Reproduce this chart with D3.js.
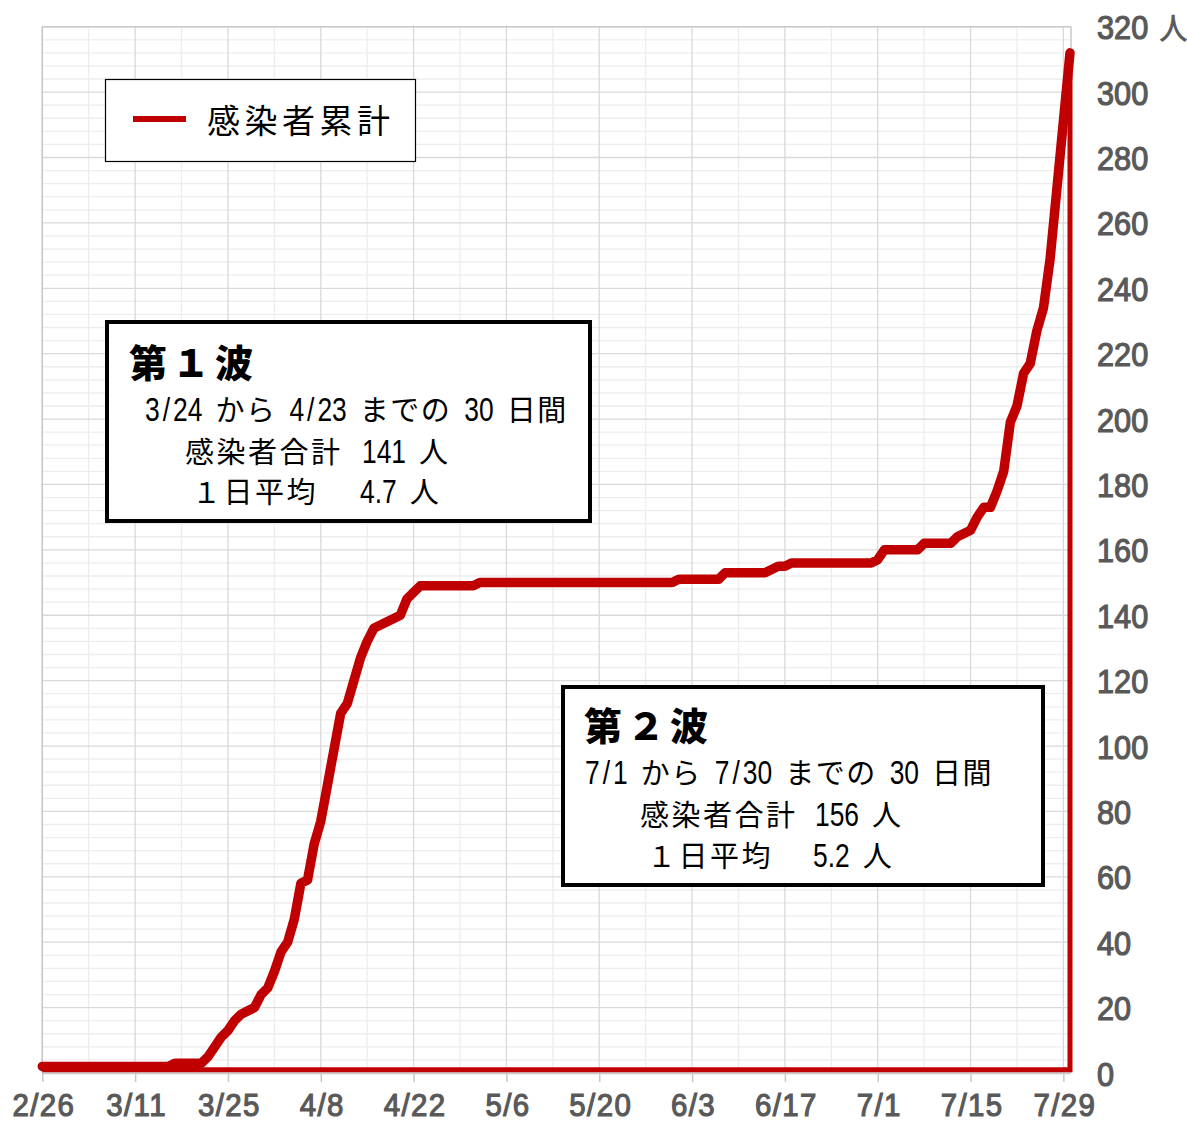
<!DOCTYPE html>
<html><head><meta charset="utf-8">
<script src="https://cdn.jsdelivr.net/npm/d3@7"></script>
<style>
html,body{margin:0;padding:0;background:#fff;}
svg{display:block;}
text{white-space:pre;}
</style></head>
<body>
<svg id="chart" width="1187" height="1124"></svg>
<script>
// ---- data ----
const startDay = "2/26";
const endDay = "7/30";
// daily cumulative infections, 2/26 .. 7/30 (2020)
const cumulative = [
  2,2,2,2,2,2,2,2,2,2, 2,2,2,2,2,2,2,2,2,2,          // 2/26 - 3/16
  3,3,3,3,3,                                          // 3/17 - 3/21
  5,8,11,13,16,18,19,20,24,26,                        // 3/22 - 3/31
  31,37,40,47,58,59,70,77,88,99,                      // 4/1 - 4/10
  110,113,120,127,132,136,137,138,139,140,            // 4/11 - 4/20
  145,147,149,                                        // 4/21 - 4/23
  149,149,149,149,149,149,149,149,                    // 4/24 - 5/1
  150,150,150,150,150,150,150,150,150,150,            // 5/2 - 5/11
  150,150,150,150,150,150,150,150,150,150,
  150,150,150,150,150,150,150,150,150,150,            // .. 5/31
  151,151,151,151,151,151,151,                        // 6/1 - 6/7
  153,153,153,153,153,153,153,                        // 6/8 - 6/14
  154,155,155,                                        // 6/15 - 6/17
  156,156,156,156,156,156,156,156,156,156,156,156,156,// 6/18 - 6/30
  157,160,160,160,160,160,160,                        // 7/1 - 7/7
  162,162,162,162,162,                                // 7/8 - 7/12
  164,165,166,170,173,173,178,184,199,204,            // 7/13 - 7/22
  214,217,227,234,249,270,291,312                     // 7/23 - 7/30
];
const closeLevel = 1;
const xTickLabels = ["2/26","3/11","3/25","4/8","4/22","5/6","5/20","6/3","6/17","7/1","7/15","7/29"];
const yTickValues = [0,20,40,60,80,100,120,140,160,180,200,220,240,260,280,300,320];
const yUnit = "人";
const legendLabel = "感染者累計";
const wave1Lines = ["第１波", "3/24 から 4/23 までの 30 日間", "感染者合計", "141 人", "１日平均", "4.7 人"];
const wave2Lines = ["第２波", "7/1 から 7/30 までの 30 日間", "感染者合計", "156 人", "１日平均", "5.2 人"];

// ---- setup ----
const parseMD = s => { const [m,d] = s.split("/").map(Number); return new Date(2020, m-1, d); };
const t0 = parseMD(startDay), t1 = parseMD(endDay);
const series = cumulative.map((v,i) => ({date: d3.timeDay.offset(t0, i), value: v}));

const L = 42.3, R = 1070, T = 26.7, B = 1073;
const x = d3.scaleTime().domain([t0, t1]).range([L, R]);
const y = d3.scaleLinear().domain([0, 320]).range([B, T]);

const svg = d3.select("#chart");
const latin = "'Liberation Sans','Arimo',sans-serif";
const cjk = "'Noto Sans CJK JP','Noto Sans',sans-serif";
const axisGrey = "#595959";

// grid
const grid = svg.append("g");
const minorY = d3.range(0, 321, 4).filter(v => v % 20 !== 0);
grid.selectAll(".hmin").data(minorY).join("line")
  .attr("x1", L).attr("x2", R).attr("y1", d=>y(d)).attr("y2", d=>y(d))
  .attr("stroke", "#ededed").attr("stroke-width", 1.3);
const allDays = d3.timeDay.range(t0, d3.timeDay.offset(t1, 1));
const minorX = allDays.filter((d,i) => i % 14 === 7);
grid.selectAll(".vmin").data(minorX).join("line")
  .attr("x1", d=>x(d)).attr("x2", d=>x(d)).attr("y1", T).attr("y2", B)
  .attr("stroke", "#ededed").attr("stroke-width", 1.3);
grid.selectAll(".hmaj").data(yTickValues).join("line")
  .attr("x1", L).attr("x2", R).attr("y1", d=>y(d)).attr("y2", d=>y(d))
  .attr("stroke", "#d9d9d9").attr("stroke-width", 1.3);
const xTickDates = xTickLabels.map(parseMD);
grid.selectAll(".vmaj").data(xTickDates).join("line")
  .attr("x1", d=>x(d)).attr("x2", d=>x(d)).attr("y1", T).attr("y2", B)
  .attr("stroke", "#d9d9d9").attr("stroke-width", 1.3);
// borders
grid.append("line").attr("x1", L).attr("x2", L).attr("y1", T).attr("y2", B).attr("stroke", "#c8c8c8").attr("stroke-width", 1.5);
grid.append("line").attr("x1", R+1).attr("x2", R+1).attr("y1", T).attr("y2", B).attr("stroke", "#c8c8c8").attr("stroke-width", 1.5);
grid.append("line").attr("x1", L).attr("x2", R+1).attr("y1", T).attr("y2", T).attr("stroke", "#c8c8c8").attr("stroke-width", 1.5);

// x axis
const xAxis = d3.axisBottom(x).tickValues(xTickDates).tickFormat((d,i)=>xTickLabels[i]).tickSize(9).tickSizeOuter(0).tickPadding(10);
const gx = svg.append("g").attr("transform", `translate(0,${B})`).call(xAxis);
gx.select(".domain").attr("stroke", "#c8c8c8").attr("stroke-width", 1.5);
gx.selectAll(".tick line").attr("stroke", "#c8c8c8").attr("stroke-width", 1.5);
gx.selectAll(".tick text")
  .attr("font-family", latin).attr("font-size", 32).attr("font-weight", "normal")
  .attr("letter-spacing", 1.5)
  .attr("fill", axisGrey).attr("stroke", axisGrey).attr("stroke-width", 1.2)
  .attr("y", 0).attr("dy", null)
  .attr("transform", "translate(1,43) scale(0.92,1)");

// y axis (right labels, no line)
const yAxis = d3.axisRight(y).tickValues(yTickValues).tickFormat(d => d === 320 ? `${d} ${yUnit}` : d).tickSize(0).tickPadding(0);
const gy = svg.append("g").attr("transform", `translate(1097,0)`).call(yAxis);
gy.select(".domain").remove();
gy.selectAll(".tick text")
  .attr("font-family", latin).attr("font-size", 33).attr("font-weight", "normal")
  .attr("fill", axisGrey).attr("stroke", axisGrey).attr("stroke-width", 1.2)
  .attr("x", 0).attr("dy", null).attr("y", 0)
  .attr("transform", "translate(0,12) scale(0.93,1)");
gy.selectAll(".tick text").filter(d => d === 320).each(function(){
  const t = d3.select(this); t.text(null);
  t.append("tspan").text("320 ");
  t.append("tspan").attr("font-family", cjk).attr("font-size", 30).attr("dx", 3).attr("stroke-width", 0.7).text(yUnit);
});

// close path (thin)
const closePts = [
  {date: series[series.length-1].date, value: series[series.length-1].value},
  {date: series[series.length-1].date, value: closeLevel},
  {date: series[0].date, value: closeLevel}
];
const line = d3.line().x(d=>x(d.date)).y(d=>y(d.value));
svg.append("path").attr("d", line(closePts)).attr("fill", "none")
  .attr("stroke", "#c00000").attr("stroke-width", 5);
// main line
svg.append("path").attr("d", line(series)).attr("fill", "none")
  .attr("stroke", "#c00000").attr("stroke-width", 9.5)
  .attr("stroke-linejoin", "round").attr("stroke-linecap", "round");

// mixed-font text helper: latin runs are condensed, CJK runs in gothic
function mixedLine(g, str, px, py, o) {
  const runs = str.match(/\/|[\x21-\x2e\x30-\x7e]+|\s+|[^\x20-\x7e]+/g);
  let cx = px;
  runs.forEach(r => {
    if (/^\s+$/.test(r)) { cx += o.space * r.length; return; }
    const slash = r === "/";
    if (slash) cx += o.slashPad;
    const ascii = /^[\x21-\x7e]+$/.test(r);
    const t = g.append("text").attr("x", 0).attr("y", 0).attr("fill", "#000")
      .attr("font-family", ascii ? latin : cjk)
      .attr("font-size", ascii ? o.latSize : o.cjkSize)
      .attr("letter-spacing", ascii ? 0 : o.cjkSpacing)
      .text(r);
    const sx = ascii ? o.latScale : 1;
    t.attr("transform", `translate(${cx},${py}) scale(${sx},1)`);
    cx += t.node().getComputedTextLength() * sx;
    if (slash) cx += o.slashPad;
  });
}
const bodyStyle = {latSize: 33, latScale: 0.8, cjkSize: 29, cjkSpacing: 1.5, space: 13, slashPad: 3};

// legend
const lg = svg.append("g");
lg.append("rect").attr("x", 105.5).attr("y", 79.5).attr("width", 310).attr("height", 82)
  .attr("fill", "#fff").attr("stroke", "#000").attr("stroke-width", 1.2);
lg.append("line").attr("x1", 133).attr("x2", 186).attr("y1", 119).attr("y2", 119)
  .attr("stroke", "#c00000").attr("stroke-width", 6);
lg.append("text").attr("x", 207).attr("y", 133).attr("font-family", cjk).attr("font-size", 33)
  .attr("letter-spacing", 4.5).attr("fill", "#000").text(legendLabel);

// wave boxes
function waveBox(lines, bx, by, bw, bh, pos) {
  const g = svg.append("g");
  g.append("rect").attr("x", bx).attr("y", by).attr("width", bw).attr("height", bh)
    .attr("fill", "#fff").attr("stroke", "#000").attr("stroke-width", 4);
  g.append("text").attr("x", pos.title[0]).attr("y", pos.title[1]).attr("font-family", cjk)
    .attr("font-size", 38).attr("font-weight", 900).attr("letter-spacing", 5).attr("fill", "#000").text(lines[0]);
  mixedLine(g, lines[1], pos.l1[0], pos.l1[1], bodyStyle);
  mixedLine(g, lines[2], pos.l2a[0], pos.l2a[1], {...bodyStyle, cjkSpacing: 2.5});
  mixedLine(g, lines[3], pos.l2b[0], pos.l2b[1], bodyStyle);
  mixedLine(g, lines[4], pos.l3a[0], pos.l3a[1], {...bodyStyle, cjkSpacing: 2.5});
  mixedLine(g, lines[5], pos.l3b[0], pos.l3b[1], bodyStyle);
}
waveBox(wave1Lines, 107, 322, 483, 199, {
  title:[129,377], l1:[145,421], l2a:[185,463], l2b:[362,463], l3a:[192,503], l3b:[360,503]
});
waveBox(wave2Lines, 563, 687, 480, 198, {
  title:[584,740], l1:[585,784], l2a:[640,826], l2b:[815,826], l3a:[647,867], l3b:[813,867]
});
</script>
</body></html>
